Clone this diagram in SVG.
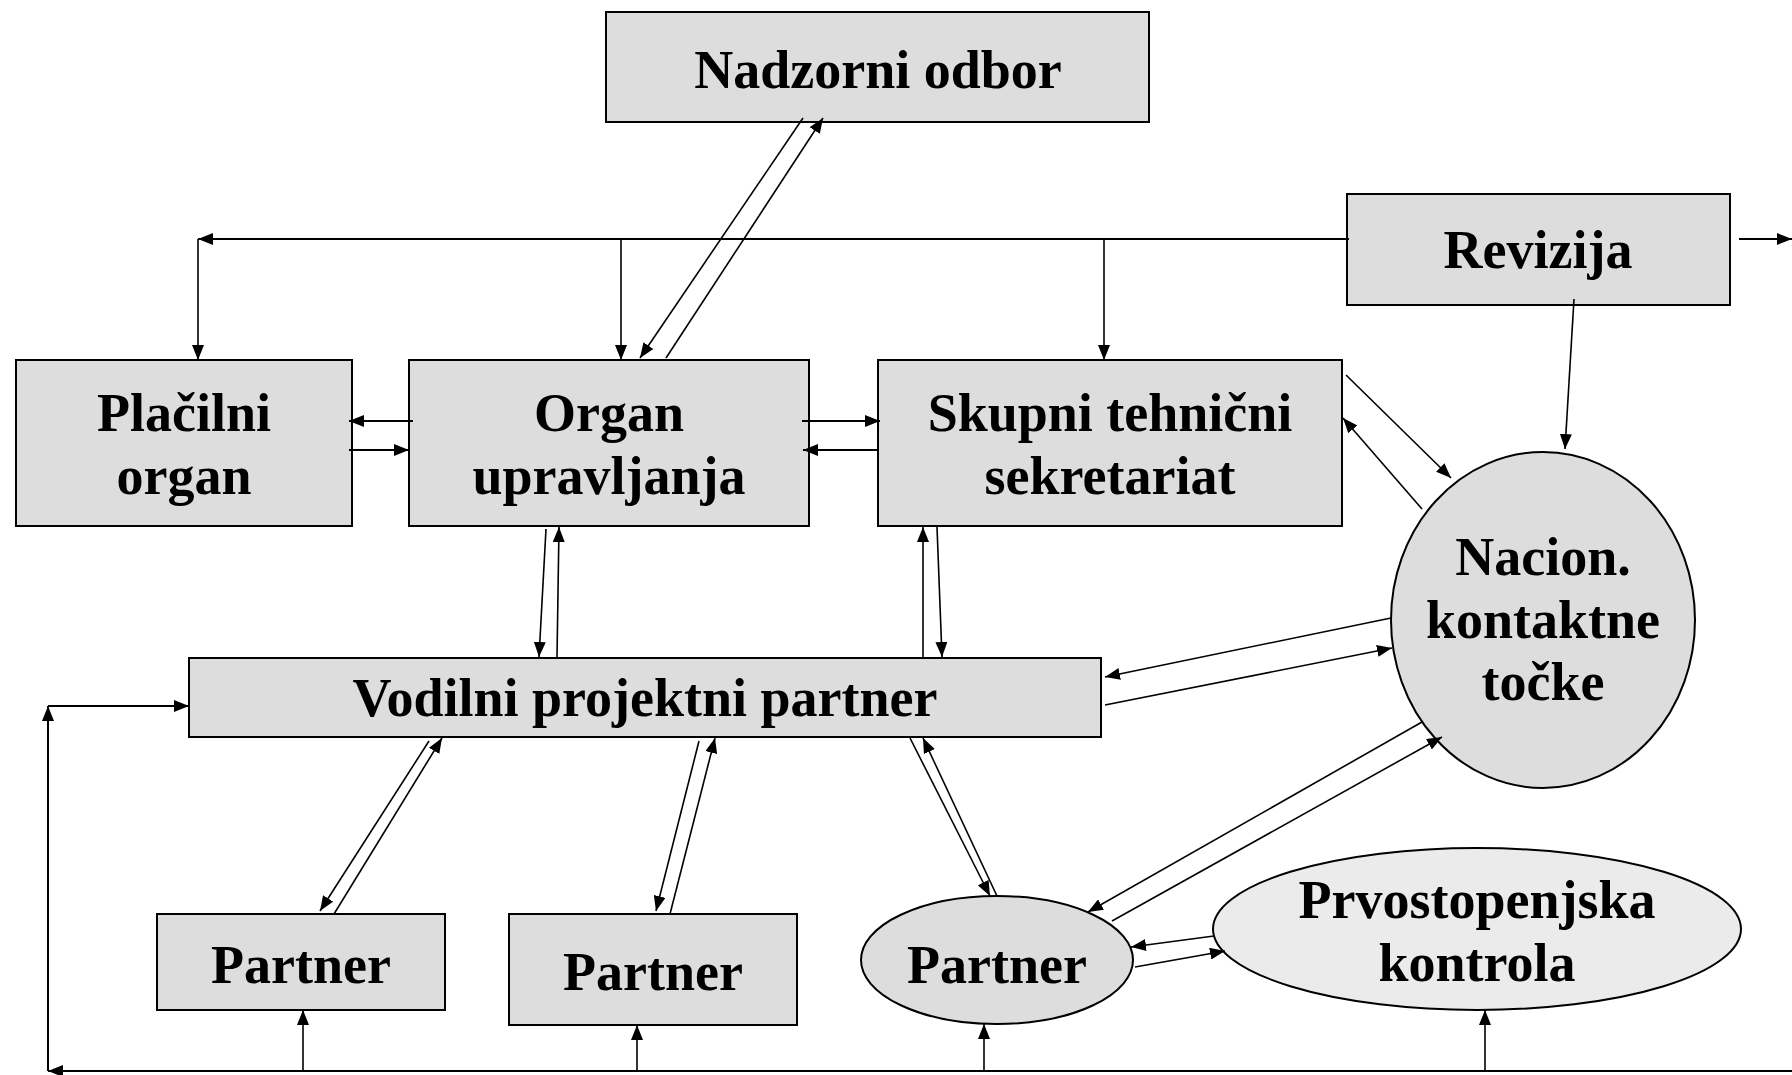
<svg xmlns="http://www.w3.org/2000/svg" width="1792" height="1075" viewBox="0 0 1792 1075">
<style>
.box{fill:#dddddd;stroke:#000;stroke-width:2}
.light{fill:#ebebeb;stroke:#000;stroke-width:2}
.t{font-family:"Liberation Serif","Times New Roman",serif;font-weight:bold;font-size:54px;fill:#000;text-anchor:middle}
.c{stroke:#000;stroke-width:1.6;fill:none;marker-end:url(#ah)}
.n{stroke:#000;stroke-width:2;fill:none}
.cw{stroke:#000;stroke-width:2;fill:none;marker-end:url(#ah)}
</style>
<defs>
<marker id="ah" markerUnits="userSpaceOnUse" markerWidth="16" markerHeight="12" refX="15" refY="6" orient="auto">
<path d="M0,0 L15,6 L0,12 z" fill="#000"/>
</marker>
</defs>
<rect width="1792" height="1075" fill="#fff"/>
<g id="nadzorni"><rect class="box" x="606" y="12" width="543" height="110"/><text class="t" x="878" y="88">Nadzorni odbor</text></g>
<g id="revizija"><rect class="box" x="1347" y="194" width="383" height="111"/><text class="t" x="1538" y="268">Revizija</text></g>
<g id="placilni"><rect class="box" x="16" y="360" width="336" height="166"/><text class="t" x="184" y="431">Plačilni</text><text class="t" x="184" y="494">organ</text></g>
<g id="organ"><rect class="box" x="409" y="360" width="400" height="166"/><text class="t" x="609" y="431">Organ</text><text class="t" x="609" y="494">upravljanja</text></g>
<g id="skupni"><rect class="box" x="878" y="360" width="464" height="166"/><text class="t" x="1110" y="431">Skupni tehnični</text><text class="t" x="1110" y="494">sekretariat</text></g>
<g id="nacion"><ellipse class="box" cx="1543" cy="620" rx="152" ry="168"/><text class="t" x="1543" y="575">Nacion.</text><text class="t" x="1543" y="638">kontaktne</text><text class="t" x="1543" y="700">točke</text></g>
<g id="vodilni"><rect class="box" x="189" y="658" width="912" height="79"/><text class="t" x="645" y="716">Vodilni projektni partner</text></g>
<g id="partner1"><rect class="box" x="157" y="914" width="288" height="96"/><text class="t" x="301" y="983">Partner</text></g>
<g id="partner2"><rect class="box" x="509" y="914" width="288" height="111"/><text class="t" x="653" y="990">Partner</text></g>
<g id="partner3"><ellipse class="box" cx="997" cy="960" rx="136" ry="64"/><text class="t" x="997" y="983">Partner</text></g>
<g id="prvostopenjska"><ellipse class="light" cx="1477" cy="929" rx="264" ry="81"/><text class="t" x="1477" y="918">Prvostopenjska</text><text class="t" x="1477" y="981">kontrola</text></g>
<g id="connectors">
<path class="cw" d="M1349,239 L198,239"/>
<path class="c" d="M198,239 L198,360"/>
<path class="c" d="M621,239 L621,360"/>
<path class="c" d="M1104,239 L1104,360"/>
<path class="cw" d="M1739,239 L1792,239"/>
<path class="c" d="M1574,299 L1565,449"/>
<path class="c" d="M803,118 L640,358"/>
<path class="c" d="M666,358 L823,118"/>
<path class="cw" d="M413,421 L349,421"/>
<path class="cw" d="M349,450 L409,450"/>
<path class="cw" d="M802,421 L880,421"/>
<path class="cw" d="M878,450 L803,450"/>
<path class="c" d="M1346,375 L1451,478"/>
<path class="c" d="M1422,509 L1343,418"/>
<path class="c" d="M546,529 L539,657"/>
<path class="c" d="M557,657 L559,527"/>
<path class="c" d="M923,657 L923,527"/>
<path class="c" d="M937,527 L942,657"/>
<path class="c" d="M1391,618 L1105,677"/>
<path class="c" d="M1105,705 L1392,648"/>
<path class="c" d="M429,741 L320,911"/>
<path class="c" d="M334,914 L442,738"/>
<path class="c" d="M699,741 L656,911"/>
<path class="c" d="M670,914 L715,738"/>
<path class="c" d="M910,738 L990,896"/>
<path class="c" d="M997,896 L923,738"/>
<path class="c" d="M1422,722 L1088,912"/>
<path class="c" d="M1112,921 L1442,737"/>
<path class="c" d="M1214,936 L1131,947"/>
<path class="c" d="M1135,967 L1225,951"/>
<path class="cw" d="M1792,1071 L48,1071"/>
<path class="cw" d="M48,1071 L48,706"/>
<path class="cw" d="M48,706 L189,706"/>
<path class="c" d="M303,1071 L303,1010"/>
<path class="c" d="M637,1071 L637,1025"/>
<path class="c" d="M984,1071 L984,1024"/>
<path class="c" d="M1485,1071 L1485,1010"/>
</g>
</svg>
